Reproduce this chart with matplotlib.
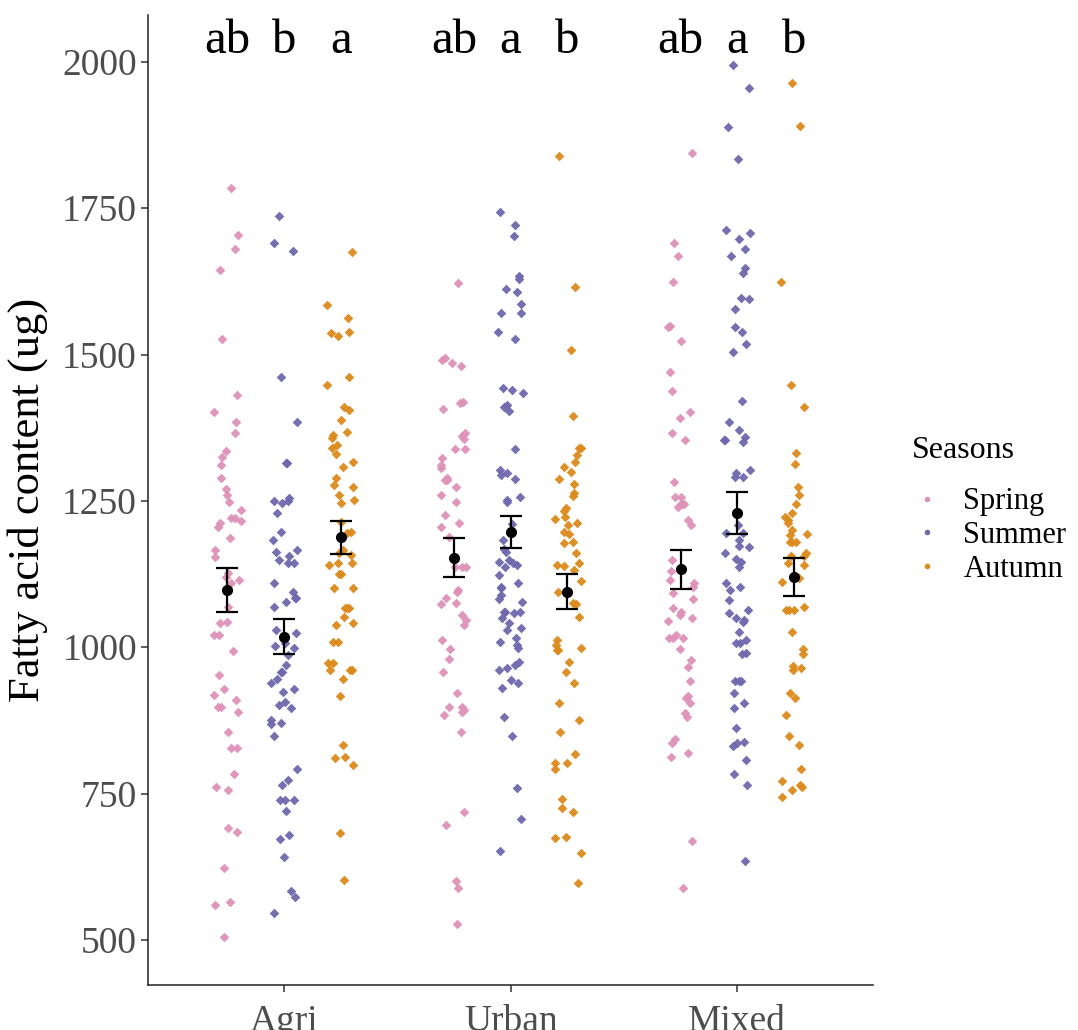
import numpy as np
import matplotlib
matplotlib.use("Agg")
import matplotlib.pyplot as plt
from matplotlib.lines import Line2D

plt.rcParams["font.family"] = ["Liberation Serif", "DejaVu Serif"]

sites = ["Agri", "Urban", "Mixed"]
seasons = ["Spring", "Summer", "Autumn"]
colors = {"Spring": "#DE92B8", "Summer": "#6F68AD", "Autumn": "#DC8A1C"}

agri_spring = [1785, 1704, 1681, 1645, 1527, 1431, 1402, 1385, 1366, 1335, 1325, 1311, 1289,
               1270, 1260, 1248, 1235, 1221, 1220, 1215, 1212, 1206, 1187, 1166, 1154, 1127,
               1120, 1115, 1110, 1069, 1043, 1041, 1021, 1021, 994, 953, 929, 919, 910, 898,
               898, 889, 855, 828, 828, 784, 761, 756, 691, 684, 623, 565, 560, 505]
agri_summer = [1737, 1691, 1677, 1462, 1385, 1315, 1315, 1250, 1255, 1250, 1247, 1230, 1197,
               1183, 1166, 1163, 1156, 1149, 1144, 1144, 1110, 1095, 1084, 1084, 1077, 1069,
               1030, 1024, 1007, 1002, 999, 987, 970, 958, 958, 946, 939, 929, 924, 907, 901,
               896, 876, 871, 869, 849, 792, 773, 765, 739, 739, 739, 721, 679, 673, 642, 584,
               573, 546]
agri_autumn = [1675, 1585, 1563, 1539, 1537, 1532, 1462, 1448, 1411, 1405, 1388, 1368, 1363,
               1357, 1346, 1341, 1330, 1317, 1308, 1289, 1277, 1274, 1260, 1252, 1247, 1214,
               1197, 1195, 1166, 1161, 1158, 1144, 1144, 1141, 1125, 1125, 1101, 1101, 1067,
               1067, 1067, 1052, 1041, 1038, 1009, 1009, 973, 973, 961, 961, 961, 946, 917,
               833, 813, 811, 799, 683, 602]
urban_spring = [1622, 1494, 1491, 1486, 1481, 1419, 1417, 1407, 1366, 1361, 1356, 1339, 1339,
                1323, 1311, 1306, 1289, 1286, 1286, 1274, 1260, 1248, 1226, 1212, 1206, 1188,
                1137, 1137, 1137, 1098, 1095, 1084, 1076, 1074, 1055, 1047, 1038, 1012, 997,
                980, 958, 922, 898, 898, 893, 889, 884, 855, 719, 696, 601, 589, 527]
urban_summer = [1744, 1722, 1703, 1634, 1629, 1612, 1607, 1587, 1571, 1571, 1539, 1527, 1443,
                1440, 1434, 1414, 1411, 1404, 1339, 1303, 1298, 1294, 1288, 1257, 1252, 1248,
                1210, 1183, 1168, 1163, 1149, 1146, 1141, 1144, 1137, 1124, 1110, 1103, 1101,
                1089, 1083, 1077, 1060, 1060, 1060, 1058, 1050, 1041, 1033, 1030, 1016, 1009,
                1004, 999, 975, 970, 965, 961, 944, 939, 930, 881, 849, 760, 707, 652]
urban_autumn = [1839, 1616, 1508, 1395, 1341, 1341, 1329, 1317, 1308, 1300, 1288, 1279, 1264,
                1259, 1238, 1232, 1223, 1219, 1212, 1209, 1197, 1194, 1180, 1178, 1161, 1144,
                1139, 1141, 1132, 1113, 1095, 1076, 1074, 1052, 1012, 1004, 999, 995, 995, 975,
                958, 939, 905, 876, 855, 818, 802, 802, 792, 741, 725, 719, 676, 674, 649, 597]
mixed_spring = [1845, 1691, 1669, 1624, 1549, 1547, 1523, 1470, 1438, 1402, 1392, 1366, 1354,
                1282, 1257, 1257, 1245, 1245, 1245, 1240, 1217, 1209, 1149, 1130, 1115, 1110,
                1103, 1093, 1083, 1067, 1060, 1055, 1050, 1045, 1021, 1016, 1016, 1016, 997,
                978, 966, 942, 917, 913, 905, 888, 881, 843, 837, 819, 813, 669, 589]
mixed_summer = [1995, 1956, 1889, 1834, 1713, 1708, 1698, 1681, 1669, 1648, 1640, 1597, 1595,
                1578, 1547, 1539, 1518, 1505, 1421, 1385, 1371, 1359, 1354, 1351, 1354, 1303,
                1298, 1291, 1291, 1209, 1195, 1195, 1183, 1173, 1171, 1161, 1151, 1146, 1137,
                1110, 1103, 1098, 1081, 1064, 1058, 1050, 1047, 1043, 1026, 1012, 1007, 1007,
                990, 989, 942, 942, 942, 922, 905, 896, 862, 838, 837, 831, 807, 784, 765, 635]
mixed_autumn = [1964, 1891, 1624, 1448, 1411, 1332, 1313, 1274, 1260, 1245, 1230, 1223, 1217,
                1212, 1200, 1194, 1192, 1180, 1180, 1180, 1161, 1156, 1156, 1144, 1141, 1124,
                1118, 1112, 1069, 1064, 1064, 1064, 1026, 997, 989, 968, 965, 961, 922, 913,
                884, 849, 833, 792, 772, 765, 761, 756, 744]

points = {
    ("Agri", "Spring"): agri_spring, ("Agri", "Summer"): agri_summer, ("Agri", "Autumn"): agri_autumn,
    ("Urban", "Spring"): urban_spring, ("Urban", "Summer"): urban_summer, ("Urban", "Autumn"): urban_autumn,
    ("Mixed", "Spring"): mixed_spring, ("Mixed", "Summer"): mixed_summer, ("Mixed", "Autumn"): mixed_autumn,
}

# mean and standard error per group (site order x season order)
means = [[1098, 1018, 1188], [1153, 1197, 1095], [1133, 1230, 1120]]
ses = [[38, 30, 28], [33, 27, 30], [33, 36, 33]]
letters = [["ab", "b", "a"], ["ab", "a", "b"], ["ab", "a", "b"]]

fig = plt.figure(figsize=(10.78, 10.30), dpi=100)
ax = fig.add_axes([0.1373, 0.0437, 0.6727, 0.9417])

dodge = 0.25
jitter = 0.06
rng = np.random.default_rng(7)

for i, site in enumerate(sites):
    for j, season in enumerate(seasons):
        y = np.array(points[(site, season)])
        xc = i + 1 + (j - 1) * dodge
        xs = xc + rng.uniform(-jitter, jitter, len(y))
        ax.scatter(xs, y, marker="D", s=24, color=colors[season], linewidths=0,
                   alpha=0.95, zorder=2)
        ax.errorbar(xc, means[i][j], yerr=ses[i][j], fmt="o", color="black",
                    markersize=7, capsize=8, elinewidth=1.6, capthick=1.6, zorder=3)
        ax.text(xc, 2035, letters[i][j], ha="center", va="center", fontsize=35,
                color="black")

ax.set_xlim(0.4, 3.6)
ax.set_ylim(423, 2080)
ax.set_xticks([1, 2, 3])
ax.set_xticklabels(sites)
ax.set_yticks([500, 750, 1000, 1250, 1500, 1750, 2000])
ax.tick_params(axis="both", labelsize=27, labelcolor="#4D4D4D", length=5, width=1.1,
               color="#333333")
ax.tick_params(axis="x", pad=9)
ax.tick_params(axis="y", pad=3)
ax.set_ylabel("Fatty acid content (ug)", fontsize=32, labelpad=10)

for side in ["top", "right"]:
    ax.spines[side].set_visible(False)
for side in ["left", "bottom"]:
    ax.spines[side].set_linewidth(1.1)
    ax.spines[side].set_color("#222222")

handles = [Line2D([], [], marker="o", linestyle="", markersize=4, color=colors[s],
                  markeredgewidth=0) for s in seasons]
leg = fig.legend(handles, seasons, title="Seasons", loc="center left",
                 bbox_to_anchor=(0.82, 0.505), frameon=False, fontsize=22,
                 title_fontsize=23, handletextpad=0.7, labelspacing=0.15,
                 handlelength=1.0)
leg._legend_box.align = "left"
leg._legend_box.sep = 16

fig.savefig("out.png", dpi=100)
